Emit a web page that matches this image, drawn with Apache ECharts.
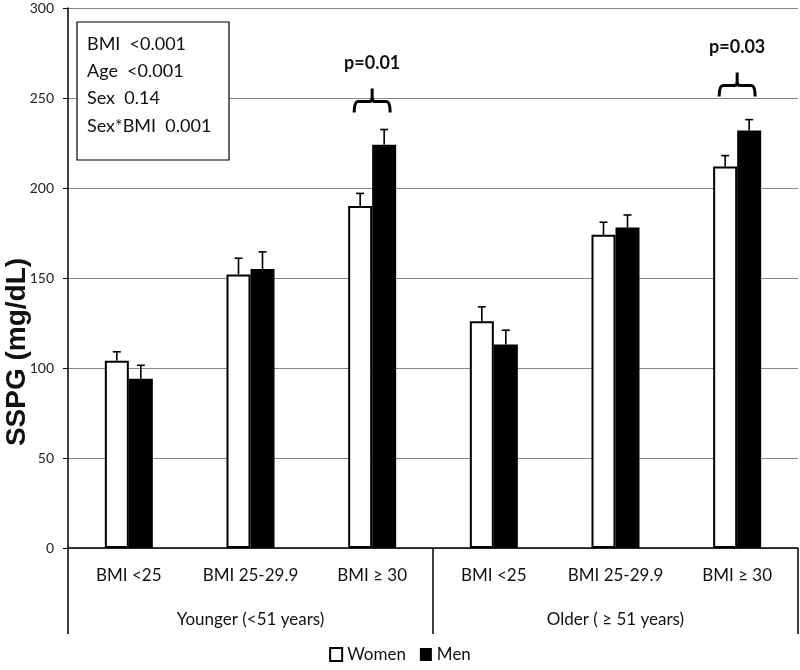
<!DOCTYPE html>
<html>
<head>
<meta charset="utf-8">
<script src="https://cdn.jsdelivr.net/npm/echarts@6/dist/echarts.min.js"></script>
<style>html,body{margin:0;padding:0;background:#fff}#c{width:800px;height:670px}</style>
</head>
<body>
<div id="c"></div>
<script>
const categories = ['BMI <25', 'BMI 25-29.9', 'BMI \u2265 30', 'BMI <25', 'BMI 25-29.9', 'BMI \u2265 30'];
const ageGroups = ['Younger (<51 years)', 'Older ( \u2265 51 years)'];
const women = [104, 152, 190, 126, 174, 212];
const womenErr = [5, 9, 7, 8, 7, 6];
const men = [94, 155, 224, 113, 178, 232];
const menErr = [7.5, 9.5, 8.5, 8, 7, 6];
const yTicks = [0, 50, 100, 150, 200, 250, 300];
const pCats = [2, 5];
const pLabels = ['p=0.01', 'p=0.03'];
const pLevels = [248, 257];
const statLines = ['BMI  <0.001', 'Age  <0.001', 'Sex  0.14', 'Sex*BMI  0.001'];

const FONT = 'Lato';
const BAR_W = 24;

function errRender(offset) {
  return function (params, api) {
    const top = api.coord([api.value(0), api.value(1)]);
    const base = api.coord([api.value(0), api.value(2)]);
    const x = top[0] + offset;
    const st = { stroke: '#000', lineWidth: 1.6 };
    return {
      type: 'group',
      children: [
        { type: 'line', shape: { x1: x, y1: base[1], x2: x, y2: top[1] }, style: st },
        { type: 'line', shape: { x1: x - 4, y1: top[1], x2: x + 4, y2: top[1] }, style: st }
      ]
    };
  };
}

function braceRender(params, api) {
  const p = api.coord([api.value(0), api.value(1)]);
  const c = p[0], y = p[1];
  const l = c - 18, r = c + 18;
  const d = `M${l} ${y + 11} Q${l} ${y} ${l + 4} ${y} L${c - 3} ${y} Q${c} ${y} ${c} ${y - 4} L${c} ${y - 13} M${c} ${y - 4} Q${c} ${y} ${c + 3} ${y} L${r - 4} ${y} Q${r} ${y} ${r} ${y + 11}`;
  return {
    type: 'group',
    children: [
      { type: 'path', shape: { pathData: d }, style: { stroke: '#000', lineWidth: 3, fill: null } },
      { type: 'text', style: { x: c, y: y - 38, text: pLabels[params.dataIndex], font: `bold 18px ${FONT}`, fill: '#111', align: 'center', verticalAlign: 'middle' } }
    ]
  };
}

const chart = echarts.init(document.getElementById('c'));
chart.setOption({
  animation: false,
  backgroundColor: '#fff',
  textStyle: { fontFamily: FONT },
  grid: { left: 68, right: 2, top: 8, bottom: 122 },
  legend: {
    bottom: 2, left: 'center',
    icon: 'rect', itemWidth: 12, itemHeight: 13, itemGap: 14,
    textStyle: { fontSize: 17, color: '#111', fontFamily: FONT },
    data: ['Women', 'Men']
  },
  xAxis: [
    {
      type: 'category', data: categories,
      axisLine: { lineStyle: { color: '#000', width: 1.5 } },
      axisTick: { show: false },
      axisLabel: { interval: 0, fontSize: 17, color: '#111', margin: 19, fontFamily: FONT }
    },
    {
      type: 'category', data: ageGroups, position: 'bottom',
      axisLine: { show: false },
      axisTick: { show: true, length: 86, lineStyle: { color: '#000', width: 1.5 } },
      axisLabel: { interval: 0, fontSize: 17, color: '#111', margin: 63, fontFamily: FONT }
    }
  ],
  yAxis: {
    type: 'value', min: yTicks[0], max: yTicks[yTicks.length - 1], interval: 50,
    axisLine: { show: true, lineStyle: { color: '#000', width: 1.5 } },
    axisTick: { show: true, length: 5, lineStyle: { color: '#000' } },
    axisLabel: { fontSize: 14, color: '#222', margin: 14, fontFamily: FONT },
    splitLine: { lineStyle: { color: '#888', width: 1 } }
  },
  graphic: [
    {
      type: 'text', x: 17, y: 352, rotation: Math.PI / 2,
      style: { text: 'SSPG (mg/dL)', font: 'bold 28px "Liberation Sans", Arial', fill: '#111', align: 'center', verticalAlign: 'middle' }
    },
    {
      type: 'rect', shape: { x: 77, y: 22, width: 152, height: 138 },
      style: { fill: '#fff', stroke: '#000', lineWidth: 1.2 }, z: 10
    },
    ...statLines.map((t, i) => ({
      type: 'text', x: 87, y: 44 + i * 27.3, z: 11,
      style: { text: t, font: `18px ${FONT}`, fill: '#111', verticalAlign: 'middle' }
    }))
  ],
  series: [
    {
      name: 'Women', type: 'bar', data: women, barWidth: BAR_W, barGap: '0%',
      itemStyle: { color: '#fff', borderColor: '#000', borderWidth: 2 }
    },
    {
      name: 'Men', type: 'bar', data: men, barWidth: BAR_W, barGap: '0%',
      itemStyle: { color: '#000', borderColor: '#000', borderWidth: 0 }
    },
    {
      type: 'custom', renderItem: errRender(-BAR_W / 2), z: 5,
      data: women.map((v, i) => [i, v + womenErr[i], v])
    },
    {
      type: 'custom', renderItem: errRender(BAR_W / 2), z: 5,
      data: men.map((v, i) => [i, v + menErr[i], v])
    },
    {
      type: 'custom', renderItem: braceRender, z: 6,
      data: pCats.map((c, i) => [c, pLevels[i]])
    }
  ]
});
</script>
</body>
</html>
